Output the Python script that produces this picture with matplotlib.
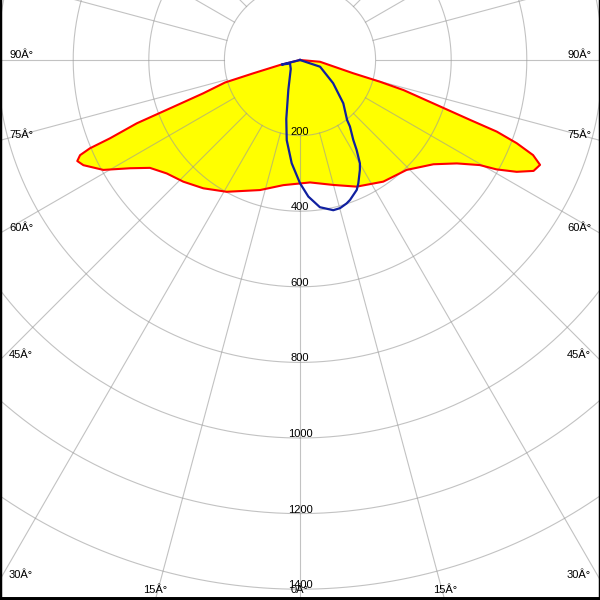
import numpy as np
import matplotlib.pyplot as plt

# light distribution curves (gamma in degrees, 0 = straight down; intensity in cd)
red_gamma = [-90, -76, -74.1, -73.3, -71, -69.6, -68.8, -67.6, -67.2, -66.6, -65.6,
             -64.1, -60.8, -57.5, -54.3, -49.6, -43.8, -37, -29.1, -17.1, -7.6, 4.7,
             14.9, 24.1, 34.4, 44.1, 52, 56.6, 59.7, 60.9, 62.7, 64.6, 66.4, 67.8, 69,
             70, 70.6, 71.8, 73.8, 74.8, 76, 85, 90]
red_cd = [0, 55, 128, 207, 271, 367, 463, 544, 603, 634, 647,
          637, 596, 533, 489, 463, 446, 425, 399, 360, 334, 325,
          342, 367, 390, 405, 448, 497, 551, 595, 645, 684, 693, 666, 614,
          554, 477, 381, 285, 219, 145, 53, 0]

blue_gamma = [-90, -76, -70.7, -46, -21.3, -13.1, -9.4, -4.6, 0, 3.5, 7.7, 12.5, 15.1,
              18, 19.7, 23.6, 25.3, 28.6, 30.1, 32.2, 33.7, 36.9, 38.1, 45, 55, 71.5, 90]
blue_cd = [0, 50, 28, 34, 85, 160, 215, 274, 326, 362, 393, 407, 406,
           399, 393, 375, 361, 331, 316, 281, 254, 220, 202, 162, 107, 56, 0]

rings = [200, 400, 600, 800, 1000, 1200, 1400]
ring_labels = ['200', '400', '600', '800', '1000', '1200', '1400']
side_angles = [90, 75, 60, 45, 30]
bottom_angles = [15, 0]

W = 600
px_per_cd = 0.378
cx, cy = 300, 60          # pole position in pixels (from top-left)
rmax = 1700
font = 'Liberation Sans'
grid_c = '#9a9a9a'

fig = plt.figure(figsize=(6, 6), dpi=100, facecolor='white')
size = 2 * rmax * px_per_cd / W
ax = fig.add_axes([cx / W - size / 2, 1 - cy / W - size / 2, size, size], projection='polar')
ax.set_theta_zero_location('S')
ax.set_ylim(0, rmax)
ax.set_xticks([])
ax.set_yticks([])
ax.grid(False)
ax.spines['polar'].set_visible(False)

ax.fill(np.radians(red_gamma), red_cd, color='#ffff00', lw=0, zorder=1)

t = np.linspace(0, 2 * np.pi, 720)
for r in rings:
    ax.plot(t, np.full_like(t, r), color=grid_c, lw=0.8, alpha=0.6, zorder=2)
for a in range(0, 360, 15):
    ax.plot([np.radians(a)] * 2, [200, rmax], color=grid_c, lw=0.8, alpha=0.6, zorder=2)

ax.plot(np.radians(red_gamma), red_cd, color='#ff0000', lw=1.5, zorder=3)
ax.plot(np.radians(blue_gamma), blue_cd, color='#1020a0', lw=1.6, zorder=4)

for v, lab in zip(rings, ring_labels):
    ax.annotate(lab, xy=(0, v), xytext=(0, 1), textcoords='offset pixels',
                ha='center', va='baseline', fontsize=8, family=font, zorder=5)


def fxy(x, y):
    return x / W, 1 - y / W


for a in side_angles:
    yexit = cy + cx / np.tan(np.radians(a)) if a < 90 else cy
    fig.text(*fxy(9, yexit - 2), f'{a}Â°', ha='left', va='baseline', fontsize=8, family=font)
    fig.text(*fxy(W - 9, yexit - 2), f'{a}Â°', ha='right', va='baseline', fontsize=8, family=font)
for a in bottom_angles:
    dx = (W - cy) * np.tan(np.radians(a))
    for xx in sorted({cx - dx, cx + dx}):
        fig.text(*fxy(xx, W - 7), f'{a}Â°', ha='center', va='baseline', fontsize=8, family=font)

frame = fig.add_axes([0, 0, 1, 1], facecolor='none')
frame.set_xticks([])
frame.set_yticks([])
frame.spines['top'].set_visible(False)
frame.spines['left'].set_linewidth(2.5)
frame.spines['right'].set_linewidth(2.5)
frame.spines['bottom'].set_linewidth(5)

fig.savefig('out.png', dpi=100)
